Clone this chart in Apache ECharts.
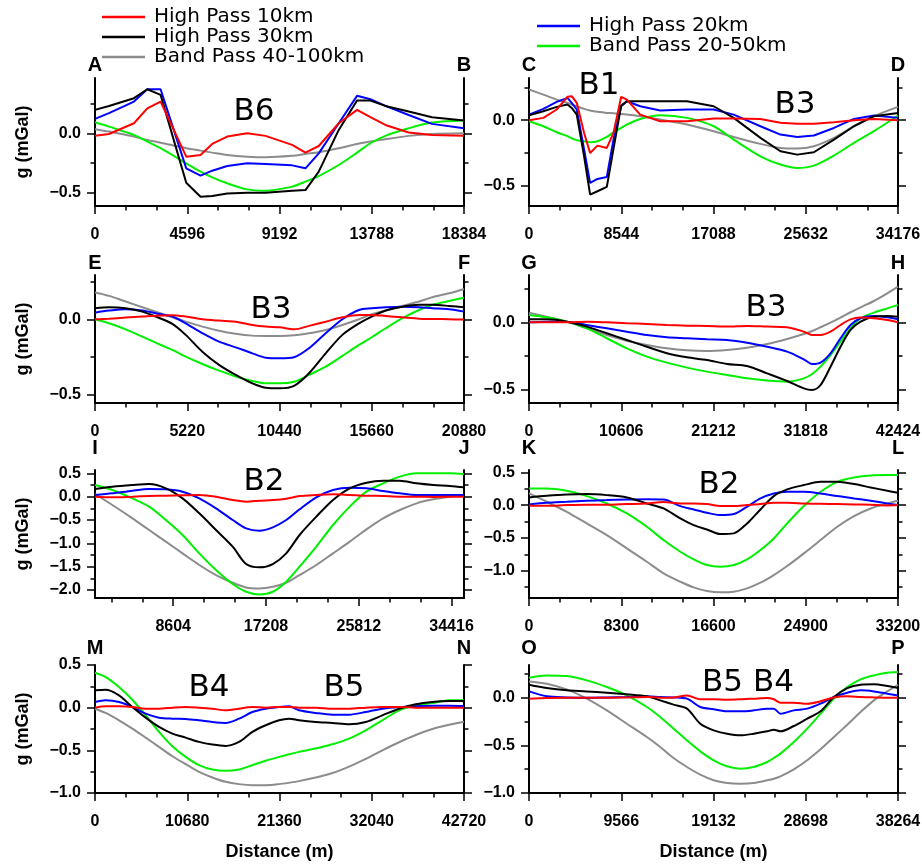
<!DOCTYPE html>
<html>
<head>
<meta charset="utf-8">
<script src="https://cdn.jsdelivr.net/npm/echarts@6/dist/echarts.min.js"></script>
<style>
  html, body { margin: 0; padding: 0; background: #fff; }
  #chart { width: 922px; height: 864px; }
</style>
</head>
<body>
<div id="chart"></div>
<script>
// ---- Profile A-B ----
const distAB = [0, 697, 1941, 2605, 3268, 4546, 5259, 5840, 6586, 7582, 8494, 9821, 10485, 11148, 12144, 13056, 13720, 14466, 15628, 16789, 18384];
const hp10AB = [-0.02, -0.006, 0.084, 0.21, 0.267, -0.197, -0.183, -0.09, -0.028, 0.0, -0.022, -0.098, -0.163, -0.107, 0.084, 0.197, 0.135, 0.07, 0.006, -0.014, -0.02];
const hp30AB = [0.197, 0.23, 0.295, 0.37, 0.323, -0.416, -0.534, -0.528, -0.506, -0.5, -0.5, -0.483, -0.478, -0.323, 0.028, 0.275, 0.275, 0.23, 0.183, 0.135, 0.107];
const bp40AB = [0.034, 0.014, -0.028, -0.056, -0.079, -0.126, -0.146, -0.163, -0.183, -0.197, -0.202, -0.19, -0.174, -0.16, -0.126, -0.09, -0.07, -0.05, -0.022, -0.006, 0.0];
const hp20AB = [0.121, 0.169, 0.267, 0.37, 0.37, -0.295, -0.357, -0.315, -0.275, -0.253, -0.258, -0.27, -0.295, -0.169, 0.084, 0.315, 0.287, 0.23, 0.154, 0.079, 0.042];
const bp20AB = [0.093, 0.056, -0.014, -0.07, -0.126, -0.253, -0.323, -0.371, -0.421, -0.472, -0.483, -0.449, -0.407, -0.36, -0.267, -0.163, -0.084, -0.022, 0.042, 0.09, 0.107];
const xTicksAB = [0, 4596, 9192, 13788, 18384];

// ---- Profile C-D ----
const distCD = [0, 1330, 2567, 3557, 3959, 4423, 5103, 5660, 6341, 7207, 7825, 8537, 9062, 10300, 12155, 14630, 17104, 18960, 21435, 23290, 24837, 26383, 28239, 30095, 31951, 34176];
const hp10CD = [0, 0.018, 0.082, 0.179, 0.184, 0.133, -0.097, -0.25, -0.194, -0.212, -0.097, 0.179, 0.158, 0.043, -0.008, -0.008, 0.013, 0.013, 0.010, -0.02, -0.026, -0.026, -0.015, 0, 0.010, 0];
const hp30CD = [0.038, 0.069, 0.102, 0.12, 0.094, 0.043, -0.276, -0.569, -0.543, -0.51, -0.219, 0.112, 0.145, 0.145, 0.145, 0.145, 0.107, 0.018, -0.135, -0.237, -0.263, -0.245, -0.148, -0.046, 0.031, 0.056];
const bp40CD = [0.235, 0.196, 0.158, 0.133, 0.12, 0.107, 0.087, 0.074, 0.064, 0.056, 0.054, 0.048, 0.043, 0.031, 0.005, -0.033, -0.084, -0.128, -0.181, -0.212, -0.217, -0.199, -0.135, -0.046, 0.031, 0.102];
const hp20CD = [0.043, 0.087, 0.14, 0.171, 0.133, 0.082, -0.224, -0.48, -0.449, -0.434, -0.148, 0.107, 0.145, 0.107, 0.074, 0.082, 0.082, 0.043, -0.046, -0.11, -0.128, -0.117, -0.059, 0.01, 0.036, 0.018];
const bp20CD = [-0.008, -0.046, -0.092, -0.122, -0.138, -0.153, -0.161, -0.168, -0.161, -0.128, -0.092, -0.059, -0.033, 0.01, 0.038, 0.018, -0.046, -0.148, -0.276, -0.339, -0.365, -0.347, -0.27, -0.173, -0.084, 0.036];
const xTicksCD = [0, 8544, 17088, 25632, 34176];

// ---- Profile E-F ----
const distEF = [0, 792, 1736, 2679, 3433, 4377, 5131, 6074, 7018, 7961, 8904, 9659, 10451, 11262, 12111, 13054, 13998, 14941, 15658, 16450, 17393, 18337, 19091, 20035, 20880];
const hp10EF = [0, 0.004, 0.011, 0.018, 0.024, 0.027, 0.018, 0, -0.009, -0.016, -0.038, -0.049, -0.053, -0.067, -0.044, -0.016, 0.013, 0.029, 0.029, 0.022, 0.013, 0.004, 0.002, 0, -0.002];
const hp30EF = [0.073, 0.08, 0.073, 0.051, 0.018, -0.031, -0.104, -0.216, -0.304, -0.371, -0.427, -0.456, -0.46, -0.444, -0.36, -0.227, -0.104, -0.027, 0.018, 0.058, 0.084, 0.096, 0.096, 0.089, 0.08];
const bp40EF = [0.178, 0.156, 0.118, 0.08, 0.051, 0.013, -0.016, -0.049, -0.076, -0.096, -0.109, -0.111, -0.111, -0.107, -0.093, -0.071, -0.038, 0, 0.033, 0.058, 0.089, 0.118, 0.147, 0.173, 0.202];
const hp20EF = [0.044, 0.058, 0.067, 0.058, 0.04, 0.018, -0.027, -0.093, -0.149, -0.187, -0.227, -0.256, -0.26, -0.253, -0.193, -0.093, 0, 0.062, 0.073, 0.08, 0.084, 0.08, 0.073, 0.067, 0.051];
const bp20EF = [0, -0.027, -0.067, -0.116, -0.156, -0.204, -0.249, -0.298, -0.342, -0.382, -0.411, -0.427, -0.427, -0.416, -0.371, -0.316, -0.244, -0.171, -0.12, -0.06, 0.007, 0.062, 0.096, 0.122, 0.144];
const xTicksEF = [0, 5220, 10440, 15660, 20880];

// ---- Profile G-H ----
const distGH = [0, 2035, 4338, 6641, 8945, 11248, 13552, 15855, 18158, 20462, 22765, 25069, 27372, 29675, 31595, 32555, 33514, 34666, 35818, 36970, 38121, 39657, 41193, 42424];
const hp10GH = [0, 0, 0, 0.005, 0, -0.007, -0.012, -0.02, -0.025, -0.027, -0.032, -0.027, -0.032, -0.037, -0.07, -0.095, -0.095, -0.07, -0.02, 0.022, 0.035, 0.03, 0.017, 0];
const hp30GH = [0.022, 0.022, 0.005, -0.032, -0.082, -0.132, -0.182, -0.231, -0.261, -0.281, -0.311, -0.326, -0.381, -0.438, -0.493, -0.505, -0.468, -0.331, -0.182, -0.057, 0.005, 0.042, 0.047, 0.042];
const bp40GH = [0.072, 0.042, 0.005, -0.045, -0.095, -0.137, -0.169, -0.194, -0.209, -0.214, -0.206, -0.189, -0.162, -0.124, -0.087, -0.065, -0.037, -0.002, 0.035, 0.075, 0.112, 0.159, 0.216, 0.266];
const hp20GH = [0, 0.005, 0.005, -0.02, -0.045, -0.07, -0.095, -0.112, -0.119, -0.127, -0.132, -0.152, -0.182, -0.219, -0.276, -0.311, -0.301, -0.231, -0.119, -0.02, 0.03, 0.047, 0.037, 0.022];
const bp20GH = [0.055, 0.037, 0.005, -0.045, -0.119, -0.194, -0.256, -0.301, -0.338, -0.368, -0.393, -0.418, -0.435, -0.443, -0.418, -0.386, -0.331, -0.244, -0.144, -0.045, 0.03, 0.072, 0.104, 0.129];
const xTicksGH = [0, 10606, 21212, 31818, 42424];

// ---- Profile I-J ----
const distIJ = [1350, 2962, 4822, 6372, 7922, 9472, 11022, 12572, 14122, 15362, 16602, 17842, 19082, 20322, 21872, 23422, 24972, 26522, 28072, 29622, 31172, 32722, 34272, 35570];
const hp10IJ = [0, -0.014, 0, 0.014, 0.021, 0.029, 0.036, 0, -0.071, -0.107, -0.086, -0.071, -0.043, 0.014, 0.036, 0.05, 0.036, 0.021, 0.014, 0, 0, -0.007, 0, 0];
const hp30IJ = [0.164, 0.214, 0.25, 0.271, 0.179, -0.036, -0.357, -0.714, -1.071, -1.443, -1.514, -1.443, -1.214, -0.821, -0.429, -0.071, 0.179, 0.3, 0.343, 0.343, 0.286, 0.25, 0.229, 0.2];
const bp40IJ = [0.057, -0.179, -0.464, -0.714, -0.964, -1.214, -1.464, -1.679, -1.843, -1.943, -1.964, -1.929, -1.843, -1.679, -1.464, -1.214, -0.964, -0.7, -0.464, -0.286, -0.143, -0.057, 0, 0.036];
const hp20IJ = [0.036, 0.071, 0.129, 0.164, 0.157, 0.107, -0.036, -0.25, -0.5, -0.679, -0.729, -0.657, -0.5, -0.271, -0.014, 0.143, 0.193, 0.179, 0.121, 0.071, 0.036, 0.036, 0.036, 0.036];
const bp20IJ = [0.25, 0.143, -0.036, -0.214, -0.5, -0.821, -1.214, -1.571, -1.871, -2.036, -2.093, -2.036, -1.821, -1.5, -1.071, -0.607, -0.214, 0.107, 0.286, 0.429, 0.5, 0.5, 0.5, 0.479];
const xTicksIJ = [8604, 17208, 25812, 34416];

// ---- Profile K-L ----
const distKL = [0, 1593, 3396, 5199, 7002, 8805, 10608, 12110, 13613, 14815, 16017, 17219, 18421, 19623, 20825, 22027, 23229, 24731, 26234, 27736, 29239, 30741, 32244, 33200];
const hp10KL = [-0.01, -0.01, 0, 0.005, 0.005, 0.015, 0.025, 0.046, 0.025, 0.025, 0.015, -0.015, -0.015, 0, 0.015, 0.036, 0.036, 0.025, 0.02, 0.015, 0.01, 0.005, -0.005, 0];
const hp30KL = [0.117, 0.142, 0.162, 0.168, 0.152, 0.117, 0.025, -0.051, -0.203, -0.305, -0.371, -0.442, -0.431, -0.279, -0.066, 0.137, 0.239, 0.305, 0.355, 0.355, 0.32, 0.269, 0.218, 0.188];
const bp40KL = [0.178, 0.051, -0.102, -0.279, -0.457, -0.66, -0.863, -1.041, -1.168, -1.254, -1.31, -1.33, -1.32, -1.269, -1.183, -1.066, -0.929, -0.736, -0.533, -0.33, -0.168, -0.051, 0.025, 0.066];
const hp20KL = [0.01, 0.036, 0.051, 0.066, 0.076, 0.086, 0.091, 0.086, -0.015, -0.066, -0.117, -0.152, -0.137, -0.025, 0.102, 0.178, 0.203, 0.203, 0.178, 0.137, 0.102, 0.066, 0.025, 0];
const bp20KL = [0.254, 0.254, 0.218, 0.137, 0.025, -0.127, -0.33, -0.533, -0.711, -0.827, -0.914, -0.939, -0.914, -0.827, -0.685, -0.508, -0.279, -0.015, 0.203, 0.355, 0.421, 0.452, 0.457, 0.457];
const xTicksKL = [0, 8300, 16600, 24900, 33200];

// ---- Profile M-N ----
const distMN = [0, 1235, 2779, 4323, 5867, 7411, 8955, 10499, 12043, 13587, 15131, 16675, 18219, 19763, 21307, 22465, 23623, 25553, 27483, 29413, 31343, 33273, 35203, 37133, 39063, 40993, 42720];
const hp10MN = [0, 0.016, 0.016, 0.008, -0.012, -0.012, 0, 0.008, 0, -0.012, -0.031, -0.012, 0.008, 0, 0.008, 0.008, 0, 0, -0.012, -0.012, 0, 0.008, 0.008, 0, 0, 0, 0];
const hp30MN = [0.203, 0.21, 0.144, 0.008, -0.117, -0.226, -0.304, -0.351, -0.401, -0.432, -0.448, -0.401, -0.284, -0.206, -0.148, -0.129, -0.148, -0.168, -0.179, -0.195, -0.168, -0.09, -0.012, 0.039, 0.066, 0.078, 0.078];
const bp40MN = [-0.012, -0.062, -0.148, -0.245, -0.351, -0.46, -0.569, -0.662, -0.752, -0.818, -0.869, -0.896, -0.908, -0.908, -0.896, -0.88, -0.861, -0.818, -0.765, -0.69, -0.6, -0.5, -0.405, -0.32, -0.25, -0.2, -0.165];
const hp20MN = [0.066, 0.086, 0.066, 0.008, -0.07, -0.117, -0.129, -0.132, -0.148, -0.168, -0.179, -0.129, -0.051, -0.012, 0.008, 0.016, -0.031, -0.062, -0.082, -0.082, -0.051, -0.012, 0.008, 0.016, 0.023, 0.023, 0.019];
const bp20MN = [0.409, 0.358, 0.242, 0.093, -0.09, -0.284, -0.452, -0.577, -0.674, -0.725, -0.74, -0.725, -0.674, -0.623, -0.577, -0.545, -0.518, -0.479, -0.429, -0.362, -0.265, -0.148, -0.031, 0.027, 0.055, 0.086, 0.086];
const xTicksMN = [0, 10680, 21360, 32040, 42720];

// ---- Profile O-P ----
const distOP = [0, 1835, 3913, 5991, 8069, 10146, 12224, 13610, 14995, 16380, 17765, 19150, 20536, 21921, 23306, 24691, 25384, 26076, 27462, 28847, 30232, 31617, 33002, 34388, 35773, 37158, 38264];
const hp10OP = [-0.01, -0.003, 0, 0, 0, 0.003, 0.007, 0, 0.003, 0.024, -0.017, -0.017, -0.021, -0.017, -0.01, -0.003, -0.017, -0.052, -0.052, -0.063, -0.038, 0.003, 0.014, 0.007, 0.003, 0, 0];
const hp30OP = [0.136, 0.101, 0.077, 0.066, 0.052, 0.035, 0.014, -0.028, -0.073, -0.115, -0.273, -0.343, -0.378, -0.395, -0.378, -0.353, -0.336, -0.353, -0.297, -0.22, -0.143, 0.007, 0.101, 0.136, 0.14, 0.122, 0.101];
const bp40OP = [0.171, 0.147, 0.087, -0.01, -0.133, -0.273, -0.413, -0.517, -0.633, -0.727, -0.808, -0.867, -0.895, -0.902, -0.895, -0.867, -0.85, -0.825, -0.752, -0.657, -0.542, -0.413, -0.283, -0.15, -0.028, 0.066, 0.136];
const hp20OP = [0.066, 0.014, 0.003, 0, 0.003, 0.007, 0.014, 0.007, 0.003, -0.01, -0.098, -0.122, -0.143, -0.143, -0.133, -0.115, -0.115, -0.168, -0.133, -0.115, -0.063, 0.007, 0.052, 0.077, 0.066, 0.042, 0.024];
const bp20OP = [0.21, 0.234, 0.227, 0.182, 0.112, 0.024, -0.098, -0.203, -0.325, -0.448, -0.563, -0.657, -0.72, -0.745, -0.727, -0.675, -0.633, -0.587, -0.465, -0.325, -0.168, -0.01, 0.112, 0.192, 0.234, 0.262, 0.269];
const xTicksOP = [0, 9566, 19132, 28698, 38264];

// Filter names and line colours
const seriesNames = ['High Pass 10km', 'High Pass 30km', 'Band Pass 40-100km', 'High Pass 20km', 'Band Pass 20-50km'];
const seriesColors = ['#ff0000', '#000000', '#8c8c8c', '#0000ff', '#00f000'];

// Panel layout: column/row, axis extents and annotation placement
const panels = [
  { ends: ['A', 'B'], col: 0, row: 0, dist: distAB, vals: [hp10AB, hp30AB, bp40AB, hp20AB, bp20AB], xr: [0, 18384], xt: xTicksAB, yr: [-0.612, 0.465], sharp: true, notes: [['B6', 254, 112]] },
  { ends: ['C', 'D'], col: 1, row: 0, dist: distCD, vals: [hp10CD, hp30CD, bp40CD, hp20CD, bp20CD], xr: [0, 34176], xt: xTicksCD, yr: [-0.656, 0.323], sharp: true, notes: [['B1', 599, 86], ['B3', 795, 105]] },
  { ends: ['E', 'F'], col: 0, row: 1, dist: distEF, vals: [hp10EF, hp30EF, bp40EF, hp20EF, bp20EF], xr: [0, 20880], xt: xTicksEF, yr: [-0.558, 0.295], notes: [['B3', 271, 310]] },
  { ends: ['G', 'H'], col: 1, row: 1, dist: distGH, vals: [hp10GH, hp30GH, bp40GH, hp20GH, bp20GH], xr: [0, 42424], xt: xTicksGH, yr: [-0.602, 0.353], notes: [['B3', 766, 308]] },
  { ends: ['I', 'J'], col: 0, row: 2, dist: distIJ, vals: [hp10IJ, hp30IJ, bp40IJ, hp20IJ, bp20IJ], xr: [1350, 35570], xt: xTicksIJ, yr: [-2.17, 0.571], notes: [['B2', 264, 482]] },
  { ends: ['K', 'L'], col: 1, row: 2, dist: distKL, vals: [hp10KL, hp30KL, bp40KL, hp20KL, bp20KL], xr: [0, 33200], xt: xTicksKL, yr: [-1.416, 0.535], notes: [['B2', 719, 485]] },
  { ends: ['M', 'N'], col: 0, row: 3, dist: distMN, vals: [hp10MN, hp30MN, bp40MN, hp20MN, bp20MN], xr: [0, 42720], xt: xTicksMN, yr: [-1.0, 0.5], notes: [['B4', 209, 688], ['B5', 344, 688]] },
  { ends: ['O', 'P'], col: 1, row: 3, dist: distOP, vals: [hp10OP, hp30OP, bp40OP, hp20OP, bp20OP], xr: [0, 38264], xt: xTicksOP, yr: [-1.0, 0.343], notes: [['B5 B4', 748, 683]] }
];

const colLeft = [95, 529];
const rowTop = [78, 275, 470, 665];
const endLabelY = [65, 263.5, 448, 648];
const PW = 369, PH = 128;

const tickFont = { fontFamily: 'Liberation Sans', fontWeight: 'bold', fontSize: 16, color: '#000' };
const axisLineStyle = { color: '#000', width: 2 };

function stepsIn(lo, hi, step) {
  const out = [];
  for (let k = Math.ceil(lo / step - 1e-9); k * step <= hi + 1e-9; k++) out.push(+(k * step).toFixed(6));
  return out;
}
const fmtY = v => (Math.abs(v) < 1e-9 ? '0.0' : v.toFixed(1)).replace('-', '\u2212');
const fmtX = v => String(Math.round(v));

const grids = [], xAxes = [], yAxes = [], series = [], graphics = [];

panels.forEach((p, i) => {
  const left = colLeft[p.col], top = rowTop[p.row];
  grids.push({ left, top, width: PW, height: PH, containLabel: false, outerBoundsMode: 'none' });

  const xStep = (p.xt[1] - p.xt[0]) / 3;
  const xMinor = stepsIn(p.xr[0], p.xr[1], xStep).filter(v => !p.xt.some(t => Math.abs(t - v) < 1));
  const yMajor = stepsIn(p.yr[0], p.yr[1], 0.5);
  const yMinor = stepsIn(p.yr[0], p.yr[1], 0.25).filter(v => !yMajor.some(t => Math.abs(t - v) < 1e-6));
  const bottomRow = p.row === 3, leftCol = p.col === 0;

  // bottom axis: major ticks with labels, then minor ticks
  xAxes.push({
    gridIndex: i, type: 'value', position: 'bottom', min: p.xr[0], max: p.xr[1],
    axisLine: { show: true, lineStyle: axisLineStyle, onZero: false },
    axisTick: { show: true, customValues: p.xt, length: 8, lineStyle: { color: '#000', width: 1.5 } },
    axisLabel: Object.assign({ show: true, customValues: p.xt, margin: 21, hideOverlap: false, formatter: fmtX }, tickFont),
    splitLine: { show: false },
    name: bottomRow ? 'Distance (m)' : '', nameLocation: 'middle', nameGap: 50,
    nameTextStyle: { fontFamily: 'Liberation Sans', fontWeight: 'bold', fontSize: 18, color: '#000' }
  });
  xAxes.push({
    gridIndex: i, type: 'value', position: 'bottom', min: p.xr[0], max: p.xr[1],
    axisLine: { show: false, onZero: false },
    axisTick: { show: true, customValues: xMinor, length: 4.5, lineStyle: { color: '#000', width: 1.5 } },
    axisLabel: { show: false }, splitLine: { show: false }
  });

  // left axis (labelled) and right axis, each with a minor-tick companion
  yAxes.push({
    gridIndex: i, type: 'value', position: 'left', min: p.yr[0], max: p.yr[1],
    axisLine: { show: true, lineStyle: axisLineStyle, onZero: false },
    axisTick: { show: true, customValues: yMajor, length: 8, lineStyle: { color: '#000', width: 1.5 } },
    axisLabel: Object.assign({ show: true, customValues: yMajor, margin: 14, formatter: fmtY, hideOverlap: false }, tickFont),
    splitLine: { show: false },
    name: leftCol ? 'g (mGal)' : '', nameLocation: 'middle', nameGap: 63,
    nameTextStyle: { fontFamily: 'Liberation Sans', fontWeight: 'bold', fontSize: 18, color: '#000' }
  });
  yAxes.push({
    gridIndex: i, type: 'value', position: 'left', min: p.yr[0], max: p.yr[1],
    axisLine: { show: false, onZero: false },
    axisTick: { show: true, customValues: yMinor, length: 4.5, lineStyle: { color: '#000', width: 1.5 } },
    axisLabel: { show: false }, splitLine: { show: false }
  });
  yAxes.push({
    gridIndex: i, type: 'value', position: 'right', min: p.yr[0], max: p.yr[1],
    axisLine: { show: true, lineStyle: axisLineStyle, onZero: false },
    axisTick: { show: true, customValues: yMajor, length: 8, lineStyle: { color: '#000', width: 1.5 } },
    axisLabel: { show: false }, splitLine: { show: false }
  });
  yAxes.push({
    gridIndex: i, type: 'value', position: 'right', min: p.yr[0], max: p.yr[1],
    axisLine: { show: false, onZero: false },
    axisTick: { show: true, customValues: yMinor, length: 4.5, lineStyle: { color: '#000', width: 1.5 } },
    axisLabel: { show: false }, splitLine: { show: false }
  });

  // curves: drawn grey, green, blue, black, red (red on top)
  [2, 4, 3, 1, 0].forEach(s => {
    const smoothLine = !p.sharp || s === 2 || s === 4;
    series.push({
      name: seriesNames[s], type: 'line', xAxisIndex: 2 * i, yAxisIndex: 4 * i,
      data: p.dist.map((d, k) => [d, p.vals[s][k]]),
      showSymbol: false, symbol: 'none', smooth: smoothLine ? 0.3 : false,
      color: seriesColors[s], lineStyle: { color: seriesColors[s], width: 2 },
      clip: true, animation: false, silent: true
    });
  });

  // end-point letters above the left and right axes
  [[p.ends[0], left], [p.ends[1], left + PW]].forEach(([t, x]) => {
    graphics.push({
      type: 'text', x, y: endLabelY[p.row], silent: true,
      style: { text: t, fill: '#000', font: 'bold 20px "Liberation Sans"', textAlign: 'center', textVerticalAlign: 'middle', align: 'center', verticalAlign: 'middle' }
    });
  });
  // basin annotations
  p.notes.forEach(([t, x, y]) => {
    graphics.push({
      type: 'text', x, y, silent: true,
      style: { text: t, fill: '#000', font: '31px "DejaVu Sans"', textAlign: 'center', textVerticalAlign: 'middle', align: 'center', verticalAlign: 'middle' }
    });
  });
});

const legendText = { fontFamily: 'DejaVu Sans', fontSize: 20, color: '#000', lineHeight: 19, padding: [0, 0, 0, 4] };

const chart = echarts.init(document.getElementById('chart'), null, { renderer: 'canvas', width: 922, height: 864 });
chart.setOption({
  backgroundColor: '#fff',
  animation: false,
  legend: [
    { data: seriesNames.slice(0, 3), orient: 'vertical', left: 102, top: 7, padding: 0, itemWidth: 43, itemHeight: 2.5, icon: 'rect', itemGap: 0, selectedMode: false, textStyle: legendText },
    { data: seriesNames.slice(3), orient: 'vertical', left: 537, top: 16, padding: 0, itemWidth: 43, itemHeight: 2.5, icon: 'rect', itemGap: 0, selectedMode: false, textStyle: legendText }
  ],
  grid: grids,
  xAxis: xAxes,
  yAxis: yAxes,
  series,
  graphic: { elements: graphics }
});
</script>
</body>
</html>
